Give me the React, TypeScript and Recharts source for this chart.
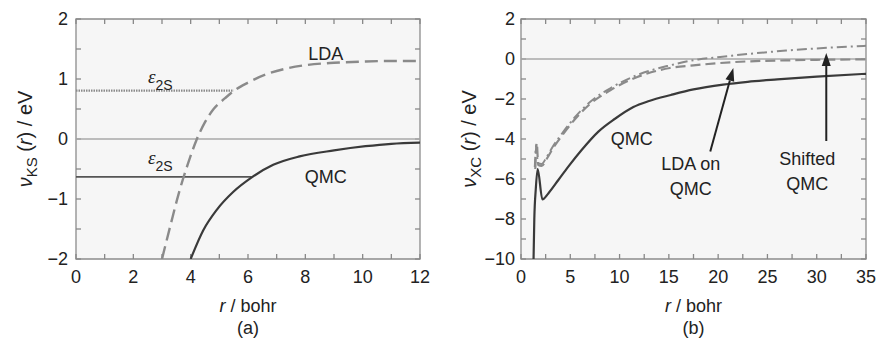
import React from 'react';
import {
  LineChart,
  Line,
  XAxis,
  YAxis,
  ReferenceLine,
  ReferenceArea,
  ReferenceDot,
} from 'recharts';

const FONT = '"Liberation Sans", Arial, Helvetica, sans-serif';
const SERIF = '"Liberation Serif", "Times New Roman", serif';
const TXT = '#222';

// ---------- Panel (a) ----------
const aXTicks = [0, 1, 2, 3, 4, 5, 6, 7, 8, 9, 10, 11, 12];
const aYTicks = [-2, -1.5, -1, -0.5, 0, 0.5, 1, 1.5, 2];

const aLdaR = [3.0, 3.3, 3.6, 3.9, 4.2, 4.5, 4.8, 5.2, 5.5, 6.0, 6.65, 7.3, 8.0, 9.0, 10.0, 11.0, 12.0];
const aLdaV = [-2.0, -1.43, -0.88, -0.42, -0.02, 0.28, 0.5, 0.68, 0.8, 0.94, 1.08, 1.17, 1.23, 1.27, 1.29, 1.3, 1.3];

const aQmcR = [4.0, 4.44, 4.91, 5.49, 6.13, 6.88, 7.8, 9.0, 10.1, 11.0, 12.0];
const aQmcV = [-2.0, -1.52, -1.18, -0.88, -0.64, -0.43, -0.29, -0.19, -0.12, -0.08, -0.06];

const aEpsLdaR = [0, 5.5];
const aEpsLdaV = [0.805, 0.805];
const aEpsQmcR = [0, 6.13];
const aEpsQmcV = [-0.63, -0.63];

// ---------- Panel (b) ----------
const bXTicks = [0, 2.5, 5, 7.5, 10, 12.5, 15, 17.5, 20, 22.5, 25, 27.5, 30, 32.5, 35];
const bYTicks = [-10, -9, -8, -7, -6, -5, -4, -3, -2, -1, 0, 1, 2];

const bQmcR = [1.25, 1.35, 1.5, 1.69, 2.17, 2.77, 3.79, 4.8, 6.15, 7.85, 9.5, 11.4, 13.0, 15.2, 17.5, 20.5, 23.0, 26.0, 30.0, 35.0];
const bQmcV = [-10.6, -8.0, -6.5, -5.5, -7.02, -6.72, -6.05, -5.38, -4.55, -3.63, -3.0, -2.4, -2.1, -1.8, -1.52, -1.28, -1.14, -1.02, -0.88, -0.74];

const bLdaR = [1.45, 1.6, 1.75, 2.1, 2.6, 3.2, 4.2, 5.4, 7.0, 9.1, 11.8, 15.1, 17.5, 20.2, 23.0, 26.9, 30.0, 35.0];
const bLdaV = [-5.5, -4.2, -5.3, -5.35, -5.0, -4.5, -3.8, -3.05, -2.25, -1.55, -0.9, -0.45, -0.32, -0.2, -0.12, -0.07, -0.04, -0.02];

const bShiftR = [1.4, 1.55, 1.7, 2.1, 2.6, 3.2, 4.2, 5.4, 7.0, 9.1, 11.8, 15.1, 18.0, 20.2, 23.0, 26.9, 30.0, 35.0];
const bShiftV = [-5.4, -4.3, -5.2, -5.25, -4.9, -4.4, -3.7, -2.95, -2.15, -1.45, -0.8, -0.32, -0.02, 0.1, 0.25, 0.42, 0.53, 0.66];

// Annotation anchors (data coordinates)
const arrowLdaFrom = { x: 19.2, y: -4.63 };
const arrowLdaTo = { x: 21.54, y: -0.45 };
const arrowShiftFrom = { x: 30.97, y: -4.1 };
const arrowShiftTo = { x: 30.97, y: 0.3 };

const toPts = (rs: number[], vs: number[]) => rs.map((r, i) => ({ r, v: vs[i] }));

const fmtNum = (v: number) => (v < 0 ? '\u2212' + Math.abs(v) : String(v));

const TICK_COLOR = '#888888';
const TICK_LEN = 5;

const labelTick =
  (side: 'bottom' | 'left', isMajor: (v: number) => boolean, gap = 8) =>
  (props: any) => {
    const x = Number(props.x);
    const y = Number(props.y);
    const v = props.payload.value as number;
    if (!isMajor(v)) return <g />;
    if (side === 'bottom') {
      return (
        <text x={x} y={y + 24} textAnchor="middle" fontSize={18} fontFamily={FONT} fill={TXT}>
          {fmtNum(v)}
        </text>
      );
    }
    return (
      <text x={x - gap} y={y} dy="0.36em" textAnchor="end" fontSize={18} fontFamily={FONT} fill={TXT}>
        {fmtNum(v)}
      </text>
    );
  };

const VTicks = (p: any) => {
  const x1 = Number(p.x1);
  const y1 = Number(p.y1);
  const y2 = Number(p.y2);
  const top = Math.min(y1, y2);
  const bot = Math.max(y1, y2);
  return (
    <g>
      <line x1={x1} y1={top} x2={x1} y2={top + TICK_LEN} stroke={TICK_COLOR} strokeWidth={1.3} />
      <line x1={x1} y1={bot} x2={x1} y2={bot - TICK_LEN} stroke={TICK_COLOR} strokeWidth={1.3} />
    </g>
  );
};
const HTicks = (p: any) => {
  const x1 = Number(p.x1);
  const x2 = Number(p.x2);
  const y1 = Number(p.y1);
  const l = Math.min(x1, x2);
  const r = Math.max(x1, x2);
  return (
    <g>
      <line x1={l} y1={y1} x2={l + TICK_LEN} y2={y1} stroke={TICK_COLOR} strokeWidth={1.3} />
      <line x1={r} y1={y1} x2={r - TICK_LEN} y2={y1} stroke={TICK_COLOR} strokeWidth={1.3} />
    </g>
  );
};

const YTitle = (offsetX: number, sub: string) => (props: any) => {
  const vb = props.viewBox || {};
  const cx = vb.x + offsetX;
  const cy = vb.y + vb.height / 2;
  return (
    <text
      x={cx}
      y={cy}
      dy="0.36em"
      transform={`rotate(-90 ${cx} ${cy})`}
      textAnchor="middle"
      fontSize={20}
      fontFamily={FONT}
      fill={TXT}
    >
      <tspan fontStyle="italic">ν</tspan>
      <tspan fontSize={15} dy={5}>{sub}</tspan>
      <tspan dy={-5}> (</tspan>
      <tspan fontStyle="italic">r</tspan>
      <tspan>) / eV</tspan>
    </text>
  );
};

const XTitle = (panel: string) => (props: any) => {
  const vb = props.viewBox || {};
  const cx = vb.x + vb.width / 2;
  return (
    <g>
      <text x={cx} y={vb.y + 53} textAnchor="middle" fontSize={18} fontFamily={FONT} fill={TXT}>
        <tspan fontStyle="italic">r</tspan>
        <tspan> / bohr</tspan>
      </text>
      <text x={cx} y={vb.y + 75} textAnchor="middle" fontSize={18} fontFamily={FONT} fill={TXT}>
        {panel}
      </text>
    </g>
  );
};

const centerText = (lines: string[], lineGap = 25) => (props: any) => {
  const vb = props.viewBox || {};
  const cx = vb.x + (vb.width || 0) / 2;
  const cy = vb.y + (vb.height || 0) / 2;
  return (
    <g>
      {lines.map((t, i) => (
        <text
          key={i}
          x={cx}
          y={cy + i * lineGap}
          dy="0.36em"
          textAnchor="middle"
          fontSize={18}
          fontFamily={FONT}
          fill={TXT}
        >
          {t}
        </text>
      ))}
    </g>
  );
};

const epsLabel = (props: any) => {
  const vb = props.viewBox || {};
  const x = vb.x + (vb.width || 0) / 2;
  const y = vb.y + (vb.height || 0) / 2;
  return (
    <text x={x} y={y} fontFamily={SERIF} fontSize={19} fill={TXT}>
      <tspan fontStyle="italic">ε</tspan>
      <tspan fontFamily={FONT} fontSize={14} dy={7}>2S</tspan>
    </text>
  );
};

const ArrowShape = (p: any) => {
  const { x1, y1, x2, y2 } = p;
  const dx = x2 - x1;
  const dy = y2 - y1;
  const L = Math.hypot(dx, dy) || 1;
  const ux = dx / L;
  const uy = dy / L;
  const hl = 13;
  const hw = 4.5;
  const bx = x2 - ux * hl;
  const by = y2 - uy * hl;
  return (
    <g>
      <line x1={x1} y1={y1} x2={bx} y2={by} stroke="#222" strokeWidth={2} />
      <polygon
        points={`${x2},${y2} ${bx - uy * hw},${by + ux * hw} ${bx + uy * hw},${by - ux * hw}`}
        fill="#222"
      />
    </g>
  );
};

const FRAME = '#8c8c8c';
const ZERO = '#a8a8a8';
const DARK = '#3a3a3a';
const GREY = '#8a8a8a';

function PanelA() {
  return (
    <LineChart width={440} height={338} margin={{ top: 19, right: 20, left: 0, bottom: 0 }}>
      <ReferenceArea x1={0} x2={12} y1={-2} y2={2} fill="#000" fillOpacity={0.035} stroke="none" />
      <XAxis
        dataKey="r"
        type="number"
        domain={[0, 12]}
        ticks={aXTicks}
        interval={0}
        allowDataOverflow
        axisLine={false}
        tickLine={false}
        tickSize={0}
        tickMargin={0}
        height={79}
        tick={labelTick('bottom', (v) => v % 2 === 0)}
        label={{ content: XTitle('(a)') }}
      />
      <YAxis
        type="number"
        domain={[-2, 2]}
        ticks={aYTicks}
        interval={0}
        allowDataOverflow
        axisLine={false}
        tickLine={false}
        tickSize={0}
        tickMargin={0}
        width={76}
        tick={labelTick('left', (v) => Number.isInteger(v), 8)}
        label={{ content: YTitle(25, 'KS') }}
      />
      {aXTicks.map((v) => (
        <ReferenceLine key={'ax' + v} x={v} ifOverflow="visible" stroke={TICK_COLOR} shape={VTicks} />
      ))}
      {aYTicks.map((v) => (
        <ReferenceLine key={'ay' + v} y={v} ifOverflow="visible" stroke={TICK_COLOR} shape={HTicks} />
      ))}
      <ReferenceLine y={0} stroke={ZERO} strokeWidth={1.6} />
      <Line
        data={toPts(aEpsLdaR, aEpsLdaV)}
        dataKey="v"
        type="linear"
        dot={false}
        stroke={GREY}
        strokeWidth={2.2}
        strokeDasharray="1.5 1"
        isAnimationActive={false}
      />
      <Line
        data={toPts(aEpsQmcR, aEpsQmcV)}
        dataKey="v"
        type="linear"
        dot={false}
        stroke="#555"
        strokeWidth={1.8}
        isAnimationActive={false}
      />
      <Line
        data={toPts(aLdaR, aLdaV)}
        dataKey="v"
        type="monotone"
        dot={false}
        stroke={GREY}
        strokeWidth={2.4}
        strokeDasharray="13 6"
        isAnimationActive={false}
      />
      <Line
        data={toPts(aQmcR, aQmcV)}
        dataKey="v"
        type="monotone"
        dot={false}
        stroke={DARK}
        strokeWidth={2.2}
        isAnimationActive={false}
      />
      <ReferenceArea x1={0} x2={12} y1={-2} y2={2} fill="none" stroke={FRAME} strokeWidth={1.3} />
      <ReferenceDot x={8.71} y={1.425} r={0} fill="none" stroke="none" label={{ content: centerText(['LDA']) }} />
      <ReferenceDot x={8.71} y={-0.628} r={0} fill="none" stroke="none" label={{ content: centerText(['QMC']) }} />
      <ReferenceDot x={2.51} y={0.93} r={0} fill="none" stroke="none" label={{ content: epsLabel }} />
      <ReferenceDot x={2.51} y={-0.42} r={0} fill="none" stroke="none" label={{ content: epsLabel }} />
    </LineChart>
  );
}

function PanelB() {
  return (
    <LineChart width={437} height={338} margin={{ top: 19, right: 11, left: 0, bottom: 0 }}>
      <ReferenceArea x1={0} x2={35} y1={-10} y2={2} fill="#000" fillOpacity={0.035} stroke="none" />
      <XAxis
        dataKey="r"
        type="number"
        domain={[0, 35]}
        ticks={bXTicks}
        interval={0}
        allowDataOverflow
        axisLine={false}
        tickLine={false}
        tickSize={0}
        tickMargin={0}
        height={79}
        tick={labelTick('bottom', (v) => v % 5 === 0)}
        label={{ content: XTitle('(b)') }}
      />
      <YAxis
        type="number"
        domain={[-10, 2]}
        ticks={bYTicks}
        interval={0}
        allowDataOverflow
        axisLine={false}
        tickLine={false}
        tickSize={0}
        tickMargin={0}
        width={81}
        tick={labelTick('left', (v) => v % 2 === 0, 6)}
        label={{ content: YTitle(29, 'XC') }}
      />
      {bXTicks.map((v) => (
        <ReferenceLine key={'bx' + v} x={v} ifOverflow="visible" stroke={TICK_COLOR} shape={VTicks} />
      ))}
      {bYTicks.map((v) => (
        <ReferenceLine key={'by' + v} y={v} ifOverflow="visible" stroke={TICK_COLOR} shape={HTicks} />
      ))}
      <ReferenceLine y={0} stroke={ZERO} strokeWidth={1.6} />
      <Line
        data={toPts(bShiftR, bShiftV)}
        dataKey="v"
        type="monotone"
        dot={false}
        stroke={GREY}
        strokeWidth={2}
        strokeDasharray="10 4 2 4"
        isAnimationActive={false}
      />
      <Line
        data={toPts(bLdaR, bLdaV)}
        dataKey="v"
        type="monotone"
        dot={false}
        stroke={GREY}
        strokeWidth={2.2}
        strokeDasharray="10 5"
        isAnimationActive={false}
      />
      <Line
        data={toPts(bQmcR, bQmcV)}
        dataKey="v"
        type="monotone"
        dot={false}
        stroke={DARK}
        strokeWidth={2.2}
        isAnimationActive={false}
      />
      <ReferenceArea x1={0} x2={35} y1={-10} y2={2} fill="none" stroke={FRAME} strokeWidth={1.3} />
      <ReferenceLine segment={[arrowLdaFrom, arrowLdaTo]} ifOverflow="visible" shape={ArrowShape} />
      <ReferenceLine segment={[arrowShiftFrom, arrowShiftTo]} ifOverflow="visible" shape={ArrowShape} />
      <ReferenceDot x={11.23} y={-3.965} r={0} fill="none" stroke="none" label={{ content: centerText(['QMC']) }} />
      <ReferenceDot x={17.22} y={-5.25} r={0} fill="none" stroke="none" label={{ content: centerText(['LDA on', 'QMC']) }} />
      <ReferenceDot x={29.05} y={-5.0} r={0} fill="none" stroke="none" label={{ content: centerText(['Shifted', 'QMC']) }} />
    </LineChart>
  );
}

export default function App() {
  return (
    <div style={{ position: 'absolute', left: 0, top: 0, width: 877, height: 338, background: '#fff' }}>
      <div style={{ position: 'absolute', left: 0, top: 0 }}>
        <PanelA />
      </div>
      <div style={{ position: 'absolute', left: 440, top: 0 }}>
        <PanelB />
      </div>
    </div>
  );
}
